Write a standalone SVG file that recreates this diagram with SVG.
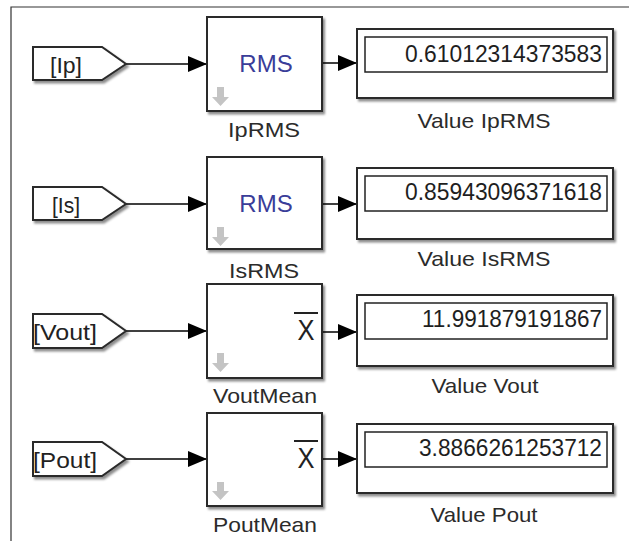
<svg xmlns="http://www.w3.org/2000/svg" width="629" height="541" viewBox="0 0 629 541">
<defs>
<filter id="sh" x="-10%" y="-10%" width="130%" height="130%">
<feDropShadow dx="2" dy="2.5" stdDeviation="1.2" flood-color="#000" flood-opacity="0.45"/>
</filter>
<marker id="ah" markerUnits="userSpaceOnUse" markerWidth="20" markerHeight="18" refX="19" refY="8" orient="auto">
<path d="M0,0 L19,8 L0,16 Z" fill="#000"/>
</marker>
<style>
text{font-family:"Liberation Sans",Arial,sans-serif;}
.tag{fill:#fff;stroke:#2a2a2a;stroke-width:2;filter:url(#sh);}
.blk{fill:#fff;stroke:#2a2a2a;stroke-width:2;filter:url(#sh);}
.inner{fill:#fff;stroke:#222;stroke-width:1.5;}
.tt{font-size:22px;fill:#222;text-anchor:middle;}
.lbl{font-size:21px;fill:#2b2b2b;text-anchor:middle;}
.rms{font-size:24px;fill:#3a3d99;text-anchor:middle;}
.val{font-size:23px;fill:#1e1e1e;text-anchor:end;}
.xb{font-size:30px;fill:#222;text-anchor:middle;}
.dn{fill:#c4c4c4;}
.w{fill:none;stroke:#000;stroke-width:1.5;marker-end:url(#ah);}
</style>
</defs>
<rect width="629" height="541" fill="#fff"/>
<path d="M11,541 V7 H629" fill="none" stroke="#333" stroke-width="1.2"/>

<g id="connectors">
<path class="w" d="M126,64 H207"/>
<path class="w" d="M322,63 H357"/>
<path class="w" d="M126,204 H207"/>
<path class="w" d="M322,204 H357"/>
<path class="w" d="M126,331 H207"/>
<path class="w" d="M322,332 H357"/>
<path class="w" d="M126,459 H207"/>
<path class="w" d="M322,459 H357"/>
</g>

<g id="tag-ip">
<polygon class="tag" points="33,47 102,47 126,64 102,80 33,80"/>
<text class="tt" x="66" y="73" textLength="32" lengthAdjust="spacingAndGlyphs">[Ip]</text>
</g>
<g id="iprms">
<rect class="blk" x="207" y="17" width="115" height="94"/>
<text class="rms" x="266" y="72">RMS</text>
<path class="dn" d="M217,87 H224 V97 H229 L220.5,106 L212,97 H217 Z"/>
<text class="lbl" x="264" y="137" textLength="72" lengthAdjust="spacingAndGlyphs">IpRMS</text>
</g>
<g id="value-iprms">
<rect class="blk" x="357" y="29" width="256" height="69"/>
<rect class="inner" x="365" y="37" width="242" height="35"/>
<text class="val" x="602" y="62" textLength="197" lengthAdjust="spacingAndGlyphs">0.61012314373583</text>
<text class="lbl" x="484" y="128" textLength="133" lengthAdjust="spacingAndGlyphs">Value IpRMS</text>
</g>

<g id="tag-is">
<polygon class="tag" points="33,187 102,187 126,204 102,220 33,220"/>
<text class="tt" x="66" y="213" textLength="28" lengthAdjust="spacingAndGlyphs">[Is]</text>
</g>
<g id="isrms">
<rect class="blk" x="207" y="157" width="115" height="92"/>
<text class="rms" x="266" y="212">RMS</text>
<path class="dn" d="M217,227 H224 V237 H229 L220.5,246 L212,237 H217 Z"/>
<text class="lbl" x="264" y="278" textLength="70" lengthAdjust="spacingAndGlyphs">IsRMS</text>
</g>
<g id="value-isrms">
<rect class="blk" x="357" y="168" width="256" height="71"/>
<rect class="inner" x="365" y="176" width="242" height="35"/>
<text class="val" x="602" y="200" textLength="197" lengthAdjust="spacingAndGlyphs">0.85943096371618</text>
<text class="lbl" x="484" y="266" textLength="133" lengthAdjust="spacingAndGlyphs">Value IsRMS</text>
</g>

<g id="tag-vout">
<polygon class="tag" points="33,314 102,314 126,331 102,348 33,348"/>
<text class="tt" x="65" y="340" textLength="64" lengthAdjust="spacingAndGlyphs">[Vout]</text>
</g>
<g id="voutmean">
<rect class="blk" x="207" y="284" width="115" height="94"/>
<path d="M294,313 H318" stroke="#222" stroke-width="2"/>
<text class="xb" x="306" y="340" textLength="17" lengthAdjust="spacingAndGlyphs">X</text>
<path class="dn" d="M217,353 H224 V363 H229 L220.5,372 L212,363 H217 Z"/>
<text class="lbl" x="265" y="403" textLength="104" lengthAdjust="spacingAndGlyphs">VoutMean</text>
</g>
<g id="value-vout">
<rect class="blk" x="357" y="295" width="256" height="71"/>
<rect class="inner" x="365" y="303" width="242" height="36"/>
<text class="val" x="602" y="327" textLength="180" lengthAdjust="spacingAndGlyphs">11.991879191867</text>
<text class="lbl" x="485" y="393" textLength="107" lengthAdjust="spacingAndGlyphs">Value Vout</text>
</g>

<g id="tag-pout">
<polygon class="tag" points="33,442 102,442 126,459 102,476 33,476"/>
<text class="tt" x="65" y="468" textLength="64" lengthAdjust="spacingAndGlyphs">[Pout]</text>
</g>
<g id="poutmean">
<rect class="blk" x="207" y="413" width="115" height="93"/>
<path d="M294,441 H318" stroke="#222" stroke-width="2"/>
<text class="xb" x="306" y="468" textLength="17" lengthAdjust="spacingAndGlyphs">X</text>
<path class="dn" d="M217,482 H224 V491 H229 L220.5,500 L212,491 H217 Z"/>
<text class="lbl" x="265" y="532" textLength="104" lengthAdjust="spacingAndGlyphs">PoutMean</text>
</g>
<g id="value-pout">
<rect class="blk" x="357" y="424" width="256" height="69"/>
<rect class="inner" x="365" y="432" width="242" height="35"/>
<text class="val" x="602" y="456" textLength="183" lengthAdjust="spacingAndGlyphs">3.8866261253712</text>
<text class="lbl" x="484" y="522" textLength="107" lengthAdjust="spacingAndGlyphs">Value Pout</text>
</g>
</svg>
